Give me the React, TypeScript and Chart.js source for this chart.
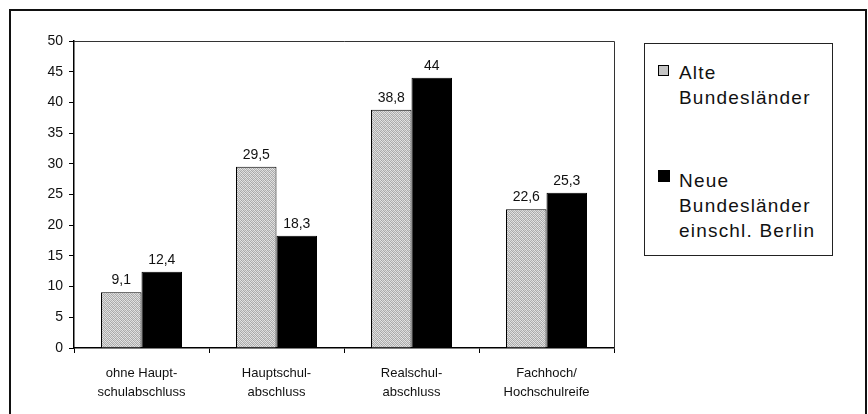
import React, { useEffect, useRef } from "react";
import { Chart, registerables } from "chart.js";

Chart.register(...registerables);

const categories: string[][] = [
  ["ohne Haupt-", "schulabschluss"],
  ["Hauptschul-", "abschluss"],
  ["Realschul-", "abschluss"],
  ["Fachhoch/", "Hochschulreife"],
];
const alteValues: number[] = [9.1, 29.5, 38.8, 22.6];
const neueValues: number[] = [12.4, 18.3, 44, 25.3];
const alteLabel: string[] = ["Alte", "Bundesländer"];
const neueLabel: string[] = ["Neue", "Bundesländer", "einschl. Berlin"];
const yMin = 0;
const yMax = 50;
const yStep = 5;

const FONT = "'Liberation Sans', Arimo, sans-serif";

function makeGrayPattern(): CanvasPattern | string {
  const c = document.createElement("canvas");
  c.width = 4;
  c.height = 4;
  const ctx = c.getContext("2d");
  if (!ctx) return "#c4c4c4";
  const shades = [
    [0xe2, 0xa4, 0xd8, 0xb2],
    [0xb6, 0xe8, 0xaa, 0xde],
    [0xd2, 0xb0, 0xe4, 0xa8],
    [0xa8, 0xdc, 0xb4, 0xe0],
  ];
  for (let y = 0; y < 4; y++) {
    for (let x = 0; x < 4; x++) {
      const v = shades[y][x];
      ctx.fillStyle = `rgb(${v},${v},${v})`;
      ctx.fillRect(x, y, 1, 1);
    }
  }
  const p = ctx.createPattern(c, "repeat");
  return p || "#c4c4c4";
}

const valueLabelPlugin = {
  id: "valueLabels",
  afterDatasetsDraw(chart: any) {
    const ctx = chart.ctx;
    ctx.save();
    ctx.font = `14px ${FONT}`;
    ctx.fillStyle = "#111";
    ctx.textAlign = "center";
    ctx.textBaseline = "alphabetic";
    chart.data.datasets.forEach((ds: any, di: number) => {
      const meta = chart.getDatasetMeta(di);
      meta.data.forEach((bar: any, i: number) => {
        const v = ds.data[i];
        const txt = String(v).replace(".", ",");
        ctx.fillText(txt, bar.x, bar.y - 8);
      });
    });
    ctx.restore();
  },
};

const framePlugin = {
  id: "plotFrame",
  beforeDatasetsDraw(chart: any) {
    const { ctx, chartArea } = chart;
    ctx.save();
    ctx.strokeStyle = "#333";
    ctx.lineWidth = 1;
    ctx.beginPath();
    ctx.moveTo(chartArea.left, chartArea.top + 0.5);
    ctx.lineTo(chartArea.right + 0.5, chartArea.top + 0.5);
    ctx.lineTo(chartArea.right + 0.5, chartArea.bottom);
    ctx.stroke();
    ctx.restore();
  },
};

export default function App() {
  const canvasRef = useRef<HTMLCanvasElement | null>(null);

  useEffect(() => {
    const canvas = canvasRef.current;
    if (!canvas) return;
    const gray = makeGrayPattern();
    const chart = new Chart(canvas, {
      type: "bar",
      data: {
        labels: categories,
        datasets: [
          {
            label: alteLabel.join(" "),
            data: alteValues,
            backgroundColor: gray as any,
            borderColor: "#000",
            borderWidth: 1,
            categoryPercentage: 0.6,
            barPercentage: 1.0,
          },
          {
            label: neueLabel.join(" "),
            data: neueValues,
            backgroundColor: "#000",
            borderColor: "#000",
            borderWidth: 1,
            categoryPercentage: 0.6,
            barPercentage: 1.0,
          },
        ],
      },
      options: {
        animation: false,
        responsive: false,
        maintainAspectRatio: false,
        devicePixelRatio: 1,
        layout: { padding: { left: 0, right: 254, top: 41, bottom: 0 } },
        plugins: {
          legend: { display: false },
          tooltip: { enabled: false },
        },
        scales: {
          x: {
            offset: true,
            grid: {
              offset: true,
              drawOnChartArea: false,
              drawTicks: true,
              tickLength: 5,
              color: "#000",
              lineWidth: 1,
            },
            border: { display: true, color: "#000", width: 1.5 },
            ticks: {
              color: "#111",
              font: { family: FONT, size: 13, lineHeight: "19px" as any },
              padding: 11,
              maxRotation: 0,
              autoSkip: false,
            },
            afterFit: (scale: any) => {
              scale.height = 66;
            },
          },
          y: {
            min: yMin,
            max: yMax,
            grid: {
              drawOnChartArea: false,
              drawTicks: true,
              tickLength: 5,
              color: "#000",
              lineWidth: 1,
            },
            border: { display: true, color: "#000", width: 1.5 },
            ticks: {
              stepSize: yStep,
              color: "#111",
              font: { family: FONT, size: 14 },
              padding: 6,
            },
            afterFit: (scale: any) => {
              scale.width = 74;
            },
          },
        },
      },
      plugins: [framePlugin, valueLabelPlugin],
    });
    return () => chart.destroy();
  }, []);

  const legendText: React.CSSProperties = {
    position: "absolute",
    left: 34,
    fontFamily: FONT,
    fontSize: 19,
    lineHeight: "25px",
    letterSpacing: "1.2px",
    color: "#111",
    whiteSpace: "nowrap",
  };

  return (
    <div
      style={{
        position: "fixed",
        left: 0,
        top: 0,
        width: 868,
        height: 414,
        background: "#fff",
        overflow: "hidden",
      }}
    >
      <canvas
        ref={canvasRef}
        width={868}
        height={414}
        style={{ position: "absolute", left: 0, top: 0, width: 868, height: 414 }}
      />
      <div
        style={{
          position: "absolute",
          left: 9,
          top: 9,
          width: 858,
          height: 430,
          boxSizing: "border-box",
          borderTop: "2px solid #111",
          borderLeft: "2px solid #111",
          borderRight: "2px solid #111",
          pointerEvents: "none",
        }}
      />
      <div
        style={{
          position: "absolute",
          left: 644,
          top: 43,
          width: 189,
          height: 213,
          boxSizing: "border-box",
          border: "1px solid #222",
          background: "#fff",
        }}
      >
        <div
          style={{
            position: "absolute",
            left: 13,
            top: 21,
            width: 11,
            height: 11,
            boxSizing: "border-box",
            border: "1px solid #000",
            background: "#c4c4c4",
          }}
        />
        <div style={{ ...legendText, top: 16 }}>
          {alteLabel.map((t, i) => (
            <div key={i}>{t}</div>
          ))}
        </div>
        <div
          style={{
            position: "absolute",
            left: 13,
            top: 126,
            width: 12,
            height: 12,
            background: "#000",
          }}
        />
        <div style={{ ...legendText, top: 124 }}>
          {neueLabel.map((t, i) => (
            <div key={i}>{t}</div>
          ))}
        </div>
      </div>
    </div>
  );
}
